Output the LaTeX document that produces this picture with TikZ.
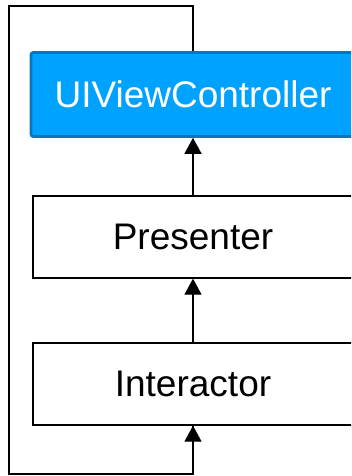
\documentclass[tikz,border=0pt]{standalone}
\usepackage{fontspec}
\setmainfont{Liberation Sans}
\usetikzlibrary{arrows.meta}
\definecolor{vcfill}{RGB}{0,162,255}
\definecolor{vcedge}{RGB}{8,118,184}
\tikzset{
  layer/.style={draw=black, line width=1.3pt, fill=white, rectangle,
    minimum height=82pt, inner sep=0pt,
    font=\fontsize{37}{44}\selectfont},
  viewbox/.style={draw=vcedge, line width=2.6pt, fill=vcfill, rectangle,
    rounded corners=2pt, minimum height=84pt, inner sep=0pt, text=white,
    font=\fontsize{37}{44}\selectfont},
  link/.style={line width=1.3pt, -{Triangle[length=16pt,width=17pt]}},
  loop/.style={line width=1.3pt}
}
\begin{document}
\begin{tikzpicture}[x=1pt, y=-1pt]
  \useasboundingbox (0,0) rectangle (351,476);
  \clip (0,0) rectangle (351,476);
  % the three layers, stacked on one vertical axis
  \node[viewbox, minimum width=324pt] (vc) at (193,94.5) {UIViewController};
  \node[layer, minimum width=320pt] (pres) at (193,237) {Presenter};
  \node[layer, minimum width=320pt] (inter) at (193,384) {Interactor};
  % corners of the return loop
  \coordinate (loopTL) at (9,6);
  \coordinate (loopBL) at (9,474);
  % upward flow
  \draw[link] (pres.north) -- (vc.south);
  \draw[link] (inter.north) -- (pres.south);
  % loop from the view controller back to the interactor
  \draw[loop] (vc.north) |- (loopTL) -- (loopBL) -| (inter.south);
  \draw[link] (inter.south |- loopBL) -- (inter.south);
\end{tikzpicture}
\end{document}
